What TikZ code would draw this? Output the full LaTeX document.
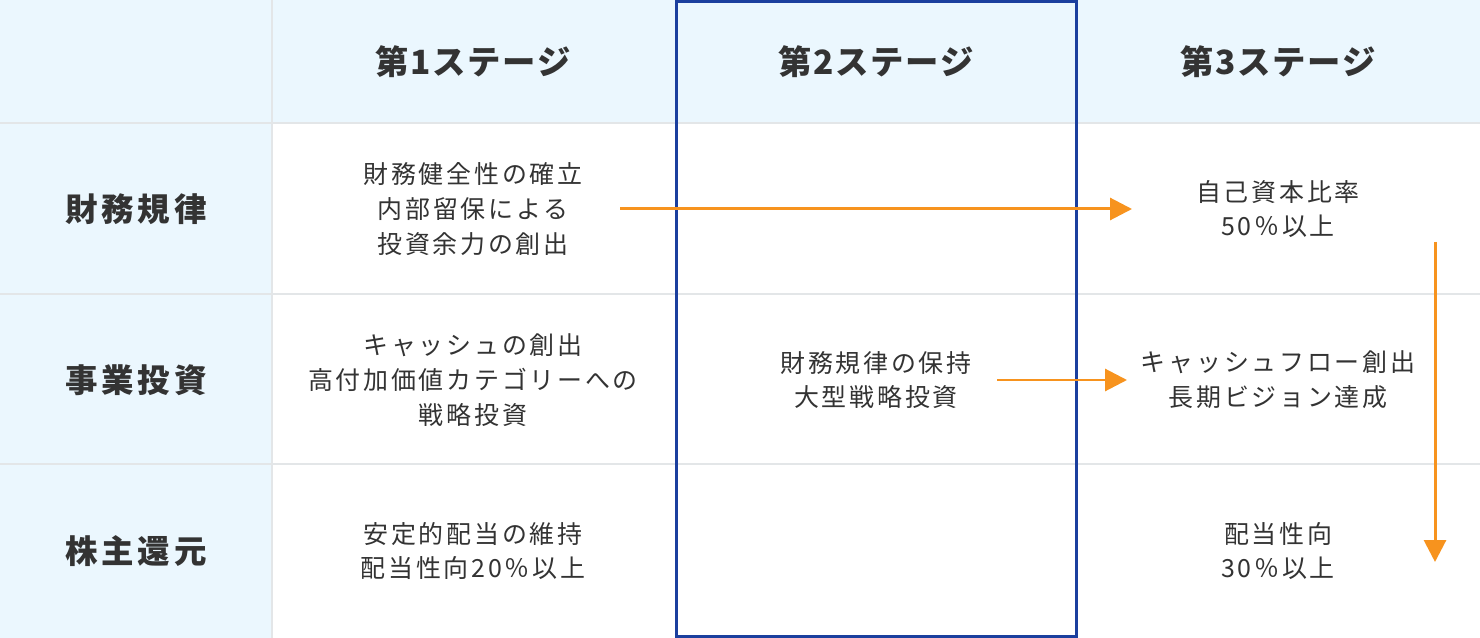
\documentclass[tikz,border=0pt]{standalone}
\usepackage{fontspec}
\setmainfont{Noto Sans CJK JP}
\newfontfamily\widecell[LetterSpace=11]{Noto Sans CJK JP}
\newfontfamily\widehead[LetterSpace=5]{Noto Sans CJK JP}
\newfontfamily\widerow[LetterSpace=12]{Noto Sans CJK JP}
\usetikzlibrary{arrows.meta, positioning}
\definecolor{hdrbg}{HTML}{EBF7FE}
\definecolor{gridln}{HTML}{E3E6E8}
\definecolor{stageblue}{HTML}{1B3F9E}
\definecolor{flow}{HTML}{F7931E}
\definecolor{txt}{HTML}{333333}

\begin{document}
\begin{tikzpicture}[x=0.02cm,y=-0.02cm,
    head/.style={font=\widehead\fontsize{19}{22}\selectfont\bfseries, text=txt},
    rowhead/.style={font=\widerow\fontsize{18.5}{22}\selectfont\bfseries, text=txt},
    cell/.style={align=center, font=\widecell\fontsize{14.2}{19.8}\selectfont, text=txt},
    flowarrow/.style={draw=flow, line width=0.06cm, -{Triangle[length=0.44cm,width=0.44cm]}}]
  % backgrounds and grid
  \useasboundingbox (0,0) rectangle (1480,638);
  \fill[white] (0,0) rectangle (1480,638);
  \fill[hdrbg] (0,0) rectangle (1480,123);
  \fill[hdrbg] (0,0) rectangle (272,638);
  \draw[gridln, line width=0.04cm] (0,123) -- (1480,123)
    (0,294) -- (1480,294) (0,464) -- (1480,464)
    (272,0) -- (272,638) (1077,0) -- (1077,638);

  % headers
  \node[head] (s1) at (473,62) {第1ステージ};
  \node[head] (s2) at (876,62) {第2ステージ};
  \node[head] (s3) at (1278,62) {第3ステージ};
  \node[rowhead] (r1) at (136,209) {財務規律};
  \node[rowhead] (r2) at (136,380) {事業投資};
  \node[rowhead] (r3) at (136,551) {株主還元};

  % cells
  \node[cell] (c11) at (473,209) {財務健全性の確立\\内部留保による\\投資余力の創出};
  \node[cell] (c21) at (473,380) {キャッシュの創出\\高付加価値カテゴリーへの\\戦略投資};
  \node[cell] (c31) at (473,551) {安定的配当の維持\\配当性向20％以上};
  \node[cell] (c22) at (876,380) {財務規律の保持\\大型戦略投資};
  \node[cell] (c13) at (1278,209) {自己資本比率\\50％以上};
  \node[cell] (c23) at (1278,380) {キャッシュフロー創出\\長期ビジョン達成};
  \node[cell] (c33) at (1278,551) {配当性向\\30％以上};

  % stage 2 frame
  \draw[stageblue, line width=0.06cm] (676,2) rectangle (1076,636);

  % arrows
  \coordinate (a1s) at (620,209);
  \coordinate (a1e) at (1132,209);
  \coordinate (a2s) at (997,380);
  \coordinate (a2e) at (1127,380);
  \coordinate (a3s) at (1435,242);
  \coordinate (a3e) at (1435,562);
  \draw[flowarrow] (a1s) -- (a1e);
  \draw[flowarrow] (a2s) -- (a2e);
  \draw[flowarrow] (a3s) -- (a3e);
\end{tikzpicture}
\end{document}
